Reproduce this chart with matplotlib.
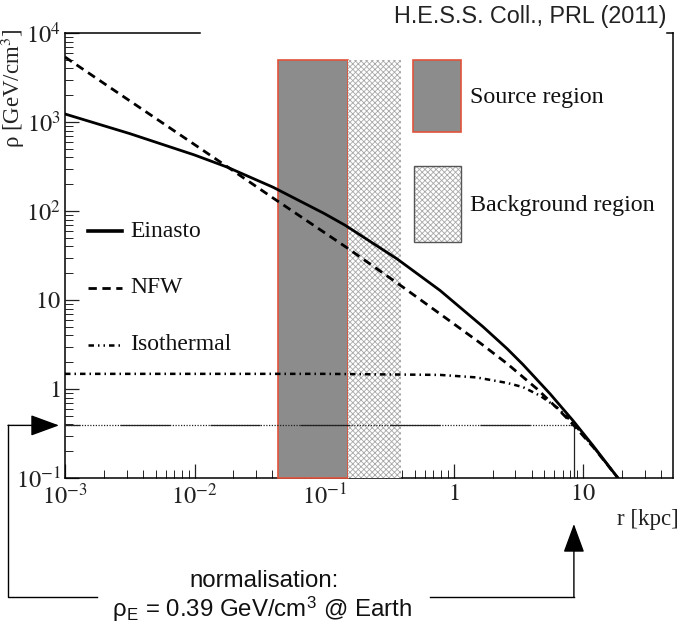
import matplotlib
matplotlib.use("Agg")
import matplotlib.pyplot as plt
from matplotlib.patches import Rectangle
from matplotlib.lines import Line2D
from matplotlib.ticker import NullFormatter, LogLocator

# ---- dark matter density profiles (r in kpc, rho in GeV/cm^3) ----
r_einasto = [1e-3, 3.16e-3, 1e-2, 1.78e-2, 4.04e-2, 0.1, 0.146, 0.366, 0.787,
             1.69, 2.59, 3.44, 5.56, 8.37, 12.0, 18.6]
rho_einasto = [1230, 741, 426, 312, 185, 94, 69, 29.0, 12.8,
               5.0, 2.84, 1.88, 0.884, 0.441, 0.229, 0.1]

r_nfw = [1e-3, 3.16e-3, 1e-2, 1.78e-2, 4.04e-2, 0.151, 0.4, 0.83, 1.6,
         2.59, 4.42, 6.3, 8.5, 12.0, 18.6]
rho_nfw = [5370, 1730, 558, 316, 140, 38.5, 14.2, 6.6, 3.3,
           1.93, 1.0, 0.61, 0.39, 0.222, 0.1]

r_iso = [1e-3, 0.1, 0.787, 1.5, 2.59, 3.44, 4.66, 6.3, 8.37, 12.0, 18.6]
rho_iso = [1.48, 1.48, 1.44, 1.35, 1.17, 1.05, 0.84, 0.62, 0.415, 0.225, 0.1]

# integration regions (kpc) and their upper drawing limit
source_region = (0.044, 0.153)
background_region = (0.153, 0.39)
region_top = 5000

# local density normalisation
r_earth = 8.5
rho_earth = 0.39

x_ticks = [1e-3, 1e-2, 1e-1, 1, 10]
x_labels = [r"$10^{-3}$", r"$10^{-2}$", r"$10^{-1}$", r"$1$", r"$10$"]
y_ticks = [1e-1, 1, 10, 1e2, 1e3, 1e4]
y_labels = [r"$10^{-1}$", r"$1$", r"$10$", r"$10^{2}$", r"$10^{3}$", r"$10^{4}$"]

profile_names = ["Einasto", "NFW", "Isothermal"]

plt.rcParams["font.family"] = ["Liberation Serif", "DejaVu Serif"]
plt.rcParams["mathtext.fontset"] = "stix"
plt.rcParams["hatch.linewidth"] = 0.6

W, H = 684, 625
fig = plt.figure(figsize=(W / 100, H / 100), dpi=100)
ax = fig.add_axes([65 / W, 1 - 478 / H, 608 / W, 445 / H])
ax.set_xscale("log")
ax.set_yscale("log")
ax.set_xlim(1e-3, 49.5)
ax.set_ylim(0.1, 1e4)

lw_curve = 2.0
iso_style = (0, (2.2, 1.6, 0.6, 1.6))
nfw_style = (0, (3, 2))

# regions
ax.add_patch(Rectangle((source_region[0], 0.1), source_region[1] - source_region[0],
                       region_top - 0.1, facecolor="#8c8c8c", edgecolor="#e0533a",
                       linewidth=1.2, zorder=2.6, clip_on=False))
ax.add_patch(Rectangle((background_region[0], 0.1),
                       background_region[1] - background_region[0],
                       region_top - 0.1, facecolor="white", edgecolor="#a8a8a8",
                       linewidth=0, hatch="xxxxxx", zorder=2.6, clip_on=False))

# profiles
ax.plot(r_einasto, rho_einasto, color="black", lw=lw_curve, zorder=4,
        solid_joinstyle="round")
ax.plot(r_nfw, rho_nfw, color="black", lw=lw_curve, ls=nfw_style, zorder=4)
ax.plot(r_iso, rho_iso, color="black", lw=1.8, ls=iso_style, zorder=4)

# normalisation marker lines
ax.plot([1e-3, r_earth], [rho_earth, rho_earth], color="#222222", lw=0.9,
        ls=(0, (1, 1.2)), zorder=3.5)
ax.plot([1e-3, r_earth], [rho_earth, rho_earth], color="#222222", lw=0.9,
        ls=(28, (40, 32)), zorder=3.5)
ax.plot([r_earth, r_earth], [0.1, rho_earth], color="#222222", lw=0.9, zorder=3.5)

# line legend
leg_y = [0.555, 0.428, 0.300]
leg_styles = [dict(ls="-", lw=2.6), dict(ls=nfw_style, lw=2.0),
              dict(ls=(0, (2.2, 1.6, 0.6, 1.6, 0.6, 1.6)), lw=1.8)]
for name, yy, st in zip(profile_names, leg_y, leg_styles):
    ax.plot([0.038, 0.094], [yy, yy], color="black", transform=ax.transAxes, **st)
    ax.text(0.107, yy, name, transform=ax.transAxes, ha="left", va="center",
            fontsize=17, color="#111111")

# region legend
ax.add_patch(Rectangle((0.572, 0.778), 0.079, 0.161, transform=ax.transAxes,
                       facecolor="#8c8c8c", edgecolor="#e0533a", linewidth=1.2,
                       zorder=3))
ax.add_patch(Rectangle((0.574, 0.530), 0.077, 0.171, transform=ax.transAxes,
                       facecolor="white", edgecolor="#a8a8a8", linewidth=0,
                       hatch="xxxxxx", zorder=3))
ax.add_patch(Rectangle((0.574, 0.530), 0.077, 0.171, transform=ax.transAxes,
                       fill=False, edgecolor="#555555", linewidth=1.0, zorder=3.1))
ax.text(0.666, 0.855, "Source region", transform=ax.transAxes, ha="left",
        va="center", fontsize=17.3, color="#111111")
ax.text(0.666, 0.613, "Background region", transform=ax.transAxes, ha="left",
        va="center", fontsize=17.3, color="#111111")

# axes frame
for side in ["left", "bottom", "right"]:
    ax.spines[side].set_linewidth(1.1)
ax.spines["top"].set_visible(False)
ax.plot([0, 0.222], [1, 1], color="black", lw=1.1, transform=ax.transAxes,
        clip_on=False)
ax.plot([0.99, 1], [1, 1], color="black", lw=1.1, transform=ax.transAxes,
        clip_on=False)

ax.set_xticks(x_ticks, labels=x_labels)
ax.set_yticks(y_ticks, labels=y_labels)
ax.xaxis.set_minor_locator(LogLocator(base=10, subs=range(2, 10), numticks=20))
ax.yaxis.set_minor_locator(LogLocator(base=10, subs=range(2, 10), numticks=20))
ax.xaxis.set_minor_formatter(NullFormatter())
ax.yaxis.set_minor_formatter(NullFormatter())
ax.tick_params(which="both", direction="in", top=False, right=False,
               labelsize=17.5, colors="#222222")
ax.tick_params(which="major", length=10, width=0.9)
ax.tick_params(which="minor", length=6, width=0.7)
ax.tick_params(axis="x", which="major", pad=4)
ax.tick_params(axis="y", which="major", pad=3)

ax.text(-0.0855, 1.011, r"ρ [GeV/cm$^{3}$]", transform=ax.transAxes, rotation=90,
        ha="center", va="top", fontsize=16.5, color="#222222")
ax.text(1.01, -0.094, "r [kpc]", transform=ax.transAxes, ha="right", va="center",
        fontsize=16.5, color="#222222")

fig.text(667 / W, 1 - 17 / H, "H.E.S.S. Coll., PRL (2011)", ha="right",
         va="center", fontsize=16.8, family="Liberation Sans", color="#222222")

# normalisation annotation outside the frame (figure pixels, origin bottom-left)
ex, ey = ax.transData.transform((r_earth, rho_earth))
_, y_norm = ax.transData.transform((1e-3, rho_earth))
y_base = H - 597
fig.add_artist(Line2D([8 / W, 8 / W, 97 / W], [y_norm / H, y_base / H, y_base / H],
                      color="black", lw=1.0, transform=fig.transFigure))
fig.add_artist(Line2D([430 / W, ex / W, ex / W], [y_base / H, y_base / H, y_base / H],
                      color="black", lw=1.0, transform=fig.transFigure))
arrow = dict(arrowstyle="-|>,head_length=0.9,head_width=0.33", color="black",
             lw=1.0, shrinkA=0, shrinkB=0, mutation_scale=20)
ax.annotate("", xy=(59, y_norm), xytext=(8, y_norm), xycoords="figure pixels",
            textcoords="figure pixels", arrowprops=arrow, annotation_clip=False)
ax.annotate("", xy=(ex, H - 524), xytext=(ex, y_base), xycoords="figure pixels",
            textcoords="figure pixels", arrowprops=arrow, annotation_clip=False)

fig.text(264 / W, 1 - 581 / H, "normalisation:", ha="center", va="center",
         fontsize=17.3, family="Liberation Sans", color="#111111")
fig.text(262 / W, 1 - 609 / H,
         r"ρ$_{\mathregular{E}}$ = 0.39 GeV/cm$^{\mathregular{3}}$ @ Earth",
         ha="center", va="center", fontsize=17.3, family="Liberation Sans",
         color="#111111")

fig.savefig("out.png", dpi=100)
